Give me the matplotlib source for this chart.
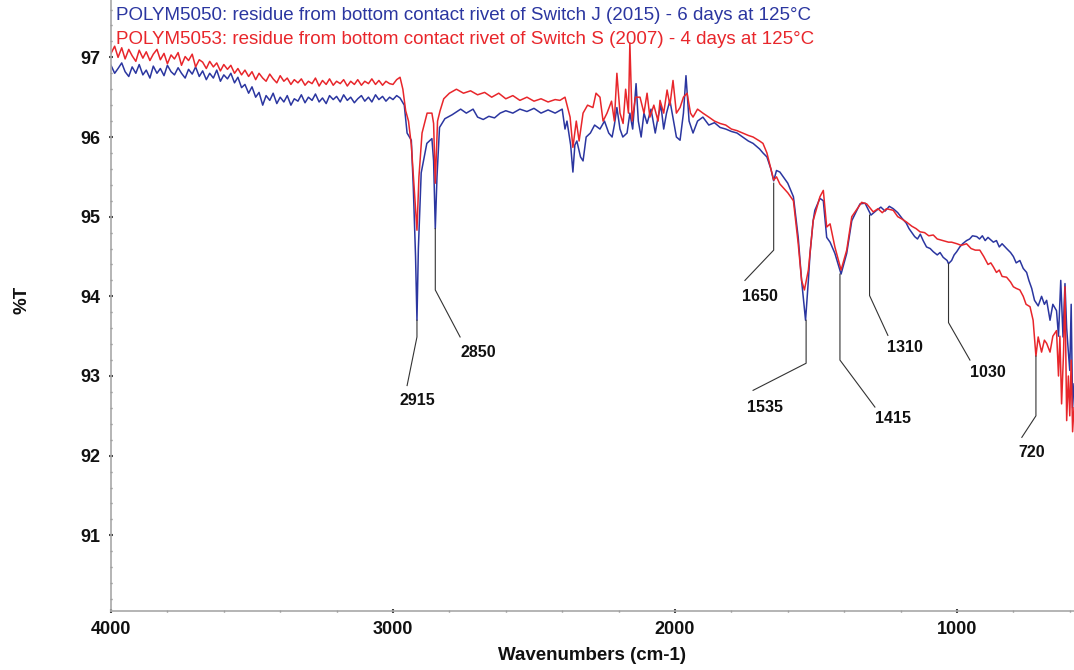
import matplotlib
matplotlib.use("Agg")
import matplotlib.pyplot as plt
from matplotlib.ticker import MultipleLocator

# ---------------- data ----------------
title_blue = "POLYM5050: residue from bottom contact rivet of Switch J (2015) - 6 days at 125\u00b0C"
title_red = "POLYM5053: residue from bottom contact rivet of Switch S (2007) - 4 days at 125\u00b0C"

# 4000-2975 cm-1 (dense, noisy part) - shared wavenumber grid
wn_hi = [4000, 3987, 3975, 3962, 3950, 3937, 3925, 3912, 3900, 3887,
         3875, 3862, 3850, 3837, 3825, 3812, 3800, 3787, 3775, 3762,
         3750, 3737, 3725, 3712, 3700, 3687, 3675, 3662, 3650, 3637,
         3625, 3612, 3600, 3587, 3575, 3562, 3550, 3537, 3525, 3512,
         3500, 3487, 3475, 3462, 3450, 3437, 3425, 3412, 3400, 3387,
         3375, 3362, 3350, 3337, 3325, 3312, 3300, 3287, 3275, 3262,
         3250, 3237, 3225, 3212, 3200, 3187, 3175, 3162, 3150, 3137,
         3125, 3112, 3100, 3087, 3075, 3062, 3050, 3037, 3025, 3012,
         3000, 2987, 2975]
t_blue_hi = [96.90, 96.80, 96.86, 96.93, 96.82, 96.76, 96.88, 96.80, 96.91, 96.78,
             96.84, 96.74, 96.89, 96.80, 96.86, 96.77, 96.90, 96.82, 96.78, 96.87,
             96.80, 96.74, 96.85, 96.79, 96.88, 96.76, 96.83, 96.72, 96.80, 96.74,
             96.84, 96.70, 96.78, 96.73, 96.80, 96.68, 96.75, 96.62, 96.66, 96.55,
             96.63, 96.50, 96.56, 96.40, 96.52, 96.46, 96.55, 96.42, 96.50, 96.44,
             96.52, 96.40, 96.48, 96.45, 96.53, 96.43, 96.50, 96.46, 96.54, 96.44,
             96.49, 96.42, 96.52, 96.47, 96.51, 96.44, 96.53, 96.46, 96.50, 96.43,
             96.48, 96.52, 96.45, 96.50, 96.44, 96.53, 96.47, 96.51, 96.45, 96.50,
             96.47, 96.52, 96.49]
t_red_hi = [97.05, 97.14, 97.00, 97.12, 96.98, 97.10, 97.02, 96.95, 97.09, 96.99,
            97.07, 96.96, 97.04, 97.10, 96.97, 97.05, 96.92, 97.03, 96.98, 97.06,
            96.90, 97.01, 96.96, 97.04, 96.88, 96.97, 96.94, 96.86, 96.95, 96.88,
            96.93, 96.83, 96.91, 96.85, 96.90, 96.80, 96.86, 96.78, 96.84, 96.76,
            96.82, 96.72, 96.80, 96.74, 96.70, 96.79, 96.73, 96.68, 96.77, 96.70,
            96.74, 96.66, 96.72, 96.68, 96.73, 96.65, 96.70, 96.67, 96.74, 96.64,
            96.71, 96.66, 96.73, 96.65, 96.70, 96.67, 96.72, 96.64, 96.70, 96.66,
            96.72, 96.65, 96.70, 96.67, 96.73, 96.66, 96.71, 96.65, 96.70, 96.67,
            96.66, 96.72, 96.75]

# below 2975 cm-1
wn_blue_lo = [2960, 2950, 2935, 2928, 2920, 2915, 2910, 2900, 2880, 2862, 2856, 2850,
              2844, 2835, 2816, 2790, 2760, 2740, 2716, 2700, 2680, 2660, 2640, 2620, 2600, 2575,
              2550, 2525, 2500, 2475, 2450, 2425, 2400, 2390, 2383, 2370, 2362, 2355, 2348, 2335,
              2326, 2315, 2300, 2285, 2266, 2250, 2235, 2223, 2215, 2206, 2195, 2185, 2170, 2160,
              2150, 2138, 2130, 2120, 2110, 2099, 2085, 2070, 2060, 2050, 2040, 2030, 2018, 2005,
              1995, 1982, 1970, 1961, 1950, 1936, 1920, 1901, 1880, 1860, 1840, 1820, 1800, 1780,
              1760, 1740, 1723, 1700, 1688, 1674, 1660, 1650, 1640, 1628, 1600, 1580, 1563, 1551,
              1537, 1527, 1521, 1510, 1504, 1486, 1474, 1462, 1450, 1433, 1411, 1391, 1373, 1344,
              1326, 1305, 1285, 1270, 1255, 1240, 1226, 1210, 1195, 1180, 1170, 1160, 1150, 1140,
              1130, 1120, 1108, 1095, 1084, 1070, 1060, 1049, 1035, 1030, 1019, 1010, 1001, 990,
              980, 966, 955, 945, 930, 920, 910, 900, 890, 871, 860, 850, 840, 824, 810, 800, 790,
              777, 765, 753, 745, 735, 725, 712, 700, 690, 682, 670, 660, 647, 640, 632, 624, 617,
              611, 605, 600, 595, 590, 585]
t_blue_lo = [96.40, 96.05, 95.96, 95.37, 94.50, 93.70, 94.60, 95.55, 95.92, 95.98, 95.70, 94.85,
             95.50, 96.12, 96.23, 96.28, 96.35, 96.30, 96.35, 96.25, 96.22, 96.26, 96.24, 96.30, 96.33, 96.30,
             96.35, 96.32, 96.36, 96.30, 96.34, 96.30, 96.35, 96.10, 96.20, 95.90, 95.56, 95.90, 95.95, 95.75,
             95.70, 96.00, 96.05, 96.15, 96.10, 96.20, 96.05, 96.00, 96.15, 96.37, 96.10, 96.00, 96.05, 96.30,
             96.10, 96.67, 96.20, 96.00, 96.30, 96.17, 96.35, 96.05, 96.25, 96.40, 96.10, 96.30, 96.46, 96.20,
             96.00, 95.96, 96.30, 96.77, 96.20, 96.05, 96.20, 96.25, 96.15, 96.18, 96.12, 96.10, 96.07, 96.05,
             96.00, 95.95, 95.92, 95.85, 95.80, 95.75, 95.60, 95.45, 95.58, 95.56, 95.42, 95.25, 94.74, 94.20,
             93.70, 94.20, 94.54, 94.95, 95.08, 95.23, 95.20, 94.74, 94.68, 94.54, 94.28, 94.54, 94.95, 95.16,
             95.17, 95.02, 95.08, 95.12, 95.07, 95.13, 95.10, 95.05, 94.98, 94.92, 94.85, 94.80, 94.75, 94.72,
             94.78, 94.70, 94.62, 94.60, 94.56, 94.52, 94.55, 94.49, 94.45, 94.41, 94.45, 94.52, 94.56, 94.62,
             94.66, 94.70, 94.72, 94.76, 94.75, 94.72, 94.76, 94.70, 94.74, 94.68, 94.70, 94.62, 94.66, 94.60,
             94.55, 94.50, 94.42, 94.45, 94.35, 94.30, 94.20, 94.10, 93.95, 93.88, 94.00, 93.90, 93.95, 93.70,
             93.90, 93.82, 93.50, 94.20, 93.49, 94.16, 93.60, 93.30, 93.07, 93.90, 92.60, 92.90]

wn_red_lo = [2965, 2955, 2945, 2935, 2925, 2915, 2908, 2897, 2879, 2862, 2856, 2850, 2842,
             2833, 2820, 2800, 2775, 2750, 2725, 2700, 2675, 2650, 2625, 2600, 2575, 2550, 2525,
             2500, 2475, 2450, 2425, 2408, 2390, 2372, 2362, 2350, 2340, 2326, 2310, 2291, 2280,
             2266, 2255, 2241, 2225, 2215, 2206, 2195, 2184, 2175, 2165, 2160, 2152, 2140, 2124,
             2110, 2099, 2089, 2075, 2060, 2053, 2040, 2028, 2018, 2007, 1995, 1982, 1970, 1957,
             1945, 1936, 1920, 1901, 1880, 1860, 1840, 1820, 1800, 1780, 1760, 1740, 1723, 1700,
             1688, 1674, 1660, 1650, 1640, 1628, 1600, 1580, 1563, 1551, 1541, 1527, 1510, 1486,
             1474, 1462, 1450, 1433, 1411, 1391, 1373, 1338, 1320, 1297, 1280, 1265, 1250, 1226,
             1210, 1195, 1178, 1160, 1145, 1131, 1115, 1100, 1084, 1070, 1050, 1030, 1019, 1000,
             985, 966, 950, 935, 919, 905, 890, 880, 871, 860, 850, 840, 824, 810, 800, 790, 777,
             765, 755, 741, 730, 720, 712, 700, 690, 682, 670, 660, 647, 640, 635, 629, 622, 617,
             611, 605, 600, 595, 590, 585]
t_red_lo = [96.60, 96.33, 96.20, 95.90, 95.37, 94.83, 95.50, 96.05, 96.30, 96.30, 96.17, 95.42, 96.20,
            96.33, 96.48, 96.55, 96.60, 96.55, 96.58, 96.53, 96.56, 96.50, 96.55, 96.48, 96.52, 96.46, 96.50,
            96.45, 96.48, 96.44, 96.47, 96.46, 96.50, 96.25, 95.87, 96.20, 95.95, 96.30, 96.40, 96.37, 96.55,
            96.50, 96.20, 96.30, 96.45, 96.20, 96.80, 96.30, 96.17, 96.60, 96.30, 97.18, 96.20, 96.50, 96.50,
            96.30, 96.55, 96.25, 96.40, 96.20, 96.46, 96.30, 96.59, 96.40, 96.71, 96.30, 96.37, 96.50, 96.55,
            96.30, 96.25, 96.35, 96.30, 96.25, 96.20, 96.17, 96.15, 96.10, 96.08, 96.05, 96.02, 96.00, 95.95,
            95.92, 95.80, 95.60, 95.46, 95.50, 95.41, 95.30, 95.20, 94.66, 94.20, 94.08, 94.33, 94.95, 95.25,
            95.33, 94.87, 94.91, 94.62, 94.33, 94.58, 95.00, 95.18, 95.16, 95.06, 95.10, 95.05, 95.10, 95.08,
            95.00, 94.97, 94.93, 94.88, 94.85, 94.81, 94.80, 94.76, 94.77, 94.72, 94.70, 94.68, 94.68, 94.66,
            94.64, 94.66, 94.60, 94.58, 94.58, 94.50, 94.40, 94.42, 94.37, 94.30, 94.33, 94.25, 94.24, 94.18,
            94.12, 94.10, 94.08, 94.00, 93.90, 93.87, 93.70, 93.25, 93.49, 93.30, 93.45, 93.41, 93.30, 93.50,
            93.57, 93.00, 93.50, 92.65, 93.30, 94.12, 92.44, 93.00, 92.50, 93.20, 92.30, 92.60]

# peak annotations: label, peak wavenumber, top & bottom of vertical leader, elbow, label position
peak_labels = ["2915", "2850", "1650", "1535", "1415", "1310", "1030", "720"]
peak_wn = [2915, 2850, 1650, 1535, 1415, 1310, 1030, 720]
leader_top = [93.70, 94.85, 95.42, 93.70, 94.28, 95.02, 94.41, 93.25]
leader_bottom = [93.49, 94.08, 94.58, 93.16, 93.20, 94.01, 93.67, 92.50]
elbow_wn = [2950, 2762, 1752, 1723, 1291, 1245, 954, 770]
elbow_t = [92.88, 93.49, 94.20, 92.82, 92.61, 93.51, 93.20, 92.23]
label_wn = [2915, 2699, 1699, 1681, 1227, 1184, 890, 734]
label_t = [92.69, 93.30, 94.00, 92.61, 92.47, 93.36, 93.05, 92.04]

y_ticks = [91, 92, 93, 94, 95, 96, 97]
x_ticks = [4000, 3000, 2000, 1000]

# ---------------- figure ----------------
BLUE = "#2b36a0"
RED = "#e8262b"
SPINE = "#a8a8a8"
FONT = "Liberation Sans"

fig = plt.figure(figsize=(10.74, 6.70), dpi=100)
ax = fig.add_axes([111 / 1074, 59 / 670, 1 - 111 / 1074, 1 - 59 / 670])

ax.plot(wn_hi + wn_blue_lo, t_blue_hi + t_blue_lo, color=BLUE, lw=1.1)
ax.plot(wn_hi + wn_red_lo, t_red_hi + t_red_lo, color=RED, lw=1.1)

for lab, pw, lt, lb, ew, et, lw_, lt_ in zip(peak_labels, peak_wn, leader_top, leader_bottom,
                                            elbow_wn, elbow_t, label_wn, label_t):
    ax.plot([pw, pw, ew], [lt, lb, et], color="#333333", lw=0.8)
    ax.text(lw_, lt_, lab, ha="center", va="center", fontsize=11.5, color="#111111",
            family=FONT, fontweight="bold")

ax.set_xlim(4000, 585)
ax.set_ylim(90.05, 97.72)
ax.set_xticks(x_ticks)
ax.set_yticks(y_ticks)
ax.xaxis.set_minor_locator(MultipleLocator(200))
ax.yaxis.set_minor_locator(MultipleLocator(0.2))

for s in ["top", "right"]:
    ax.spines[s].set_visible(False)
for s in ["left", "bottom"]:
    ax.spines[s].set_color(SPINE)
    ax.spines[s].set_linewidth(1.2)

ax.tick_params(axis="both", which="major", length=3, width=1.5, color="#444444",
               direction="inout", labelsize=13, pad=6)
ax.tick_params(axis="both", which="minor", length=2, width=1.0, color="#777777", direction="inout")
for lbl in ax.get_xticklabels() + ax.get_yticklabels():
    lbl.set_fontweight("bold")
    lbl.set_family(FONT)
    lbl.set_color("#111111")

ax.set_xlabel("Wavenumbers (cm-1)", fontsize=13.5, fontweight="bold", family=FONT,
              color="#111111", labelpad=6)
fig.text(22 / 1074, 1 - 300 / 670, "%T", rotation=90, fontsize=13.5, fontweight="bold",
         family=FONT, color="#111111", ha="center", va="center")

fig.text(116 / 1074, 1 - 16 / 670, title_blue, color=BLUE, fontsize=13.5, va="center",
         ha="left", family=FONT)
fig.text(116 / 1074, 1 - 39 / 670, title_red, color=RED, fontsize=13.5, va="center",
         ha="left", family=FONT)

fig.savefig("out.png", dpi=100)
